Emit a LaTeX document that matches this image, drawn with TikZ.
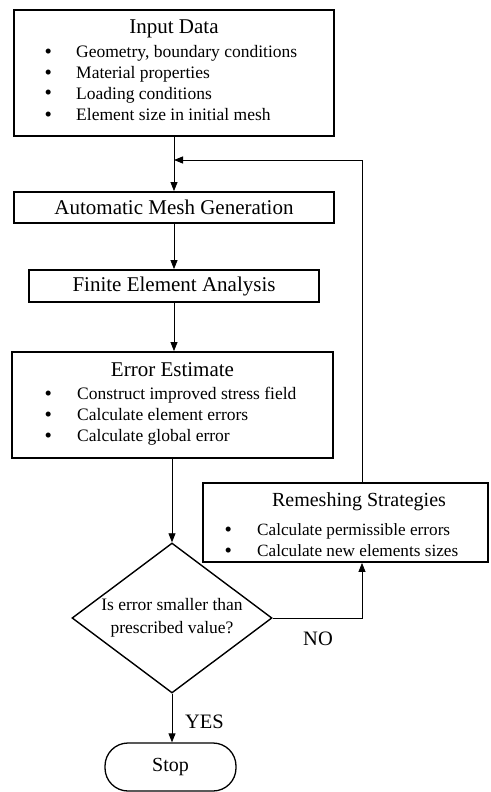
\documentclass[tikz,border=0pt]{standalone}
\usepackage{fontspec}
\setmainfont{Liberation Serif}
\usepackage{tikz}
\usetikzlibrary{positioning,shapes.geometric,arrows.meta}

\newcommand{\titlesize}{\fontsize{21}{25}\selectfont}
\newcommand{\itemsize}{\fontsize{17.5}{21}\selectfont}
\newcommand{\bigdot}{\raisebox{-1pt}{\fontsize{21}{21}\selectfont\textbullet}}

\begin{document}
\begin{tikzpicture}[x=1pt,y=1pt,yscale=-1,
	box/.style={draw,line width=1.8pt,inner sep=0pt},
	title/.style={inner sep=0pt,font=\titlesize},
	item/.style={anchor=base west,inner sep=0pt,font=\itemsize},
	flow/.style={-{Triangle[length=9pt,width=7pt]},line width=0.8pt}]
	\useasboundingbox (0,0) rectangle (490,792);
	
	%Shape: Rectangle
	\node [box,minimum width=320pt,minimum height=126pt] (input) at (174,73) {};
	%Shape: Rectangle
	\node [box,title,minimum width=320pt,minimum height=31pt] (mesh) at (174,207.5) {Automatic Mesh Generation};
	%Shape: Rectangle
	\node [box,title,minimum width=290pt,minimum height=32pt] (fea) at (174,286) {Finite Element Analysis};
	%Shape: Rectangle
	\node [box,minimum width=321pt,minimum height=106pt] (error) at (172.5,405) {};
	%Shape: Rectangle
	\node [box,minimum width=285pt,minimum height=79pt] (remesh) at (345.5,522.5) {};
	%Shape: Diamond
	\node [draw,diamond,line width=1.4pt,aspect=1.33,inner sep=0pt,minimum width=200pt,minimum height=150pt,align=center,font=\fontsize{17.5}{22.5}\selectfont] (test) at (172,618) {Is error smaller than\\prescribed value?};
	%Rounded Rect
	\node [draw,line width=1.3pt,rounded corners=23pt,minimum width=131pt,minimum height=48pt,inner sep=0pt,font=\fontsize{20}{24}\selectfont] (stop) at (170.5,767) {Stop};
	
	% Text Node
	\node [title,anchor=base] (inTitle) at (174,34) {Input Data};
	\foreach \y/\t [count=\i] in {58/{Geometry, boundary conditions},78/{Material properties},99/{Loading conditions},120.5/{Element size in initial mesh}} {
		\node [item] (inItem\i) at (44.3,\y) {\makebox[31.7pt][l]{\bigdot}\t};
	}
	% Text Node
	\node [title,anchor=base] (errTitle) at (172.5,376) {Error Estimate};
	\foreach \y/\t [count=\i] in {399.5/{Construct improved stress field},420/{Calculate element errors},441/{Calculate global error}} {
		\node [item] (errItem\i) at (44.3,\y) {\makebox[32.7pt][l]{\bigdot}\t};
	}
	% Text Node
	\node [title,anchor=base,font=\fontsize{20}{24}\selectfont] (remTitle) at (359,506.5) {Remeshing Strategies};
	\foreach \y/\t [count=\i] in {535.5/{Calculate permissible errors},556/{Calculate new elements sizes}} {
		\node [item,font=\fontsize{17.2}{21}\selectfont] (remItem\i) at (224.3,\y) {\makebox[32.7pt][l]{\bigdot}\t};
	}
	% Text Node
	\node [anchor=base,inner sep=0pt,font=\fontsize{20.5}{24}\selectfont] (no) at (318,645) {NO};
	% Text Node
	\node [anchor=base,inner sep=0pt,font=\fontsize{20.5}{24}\selectfont] (yes) at (204.5,728) {YES};
	
	\coordinate (loop) at (362,160);
	\coordinate (merge) at (input.south |- loop);
	
	%Straight Lines
	\draw [flow] (input.south) -- (mesh.north);
	\draw [flow] (mesh.south) -- (mesh.south |- fea.north);
	\draw [flow] (fea.south) -- (fea.south |- error.north);
	\draw [flow] (error.south -| test.north) -- (test.north);
	\draw [flow] (test.south) -- (test.south |- stop.north);
	\draw [flow] (test.east) -| (remesh.south -| loop);
	\draw [flow] (remesh.north -| loop) -- (loop) -- (merge);
\end{tikzpicture}
\end{document}
